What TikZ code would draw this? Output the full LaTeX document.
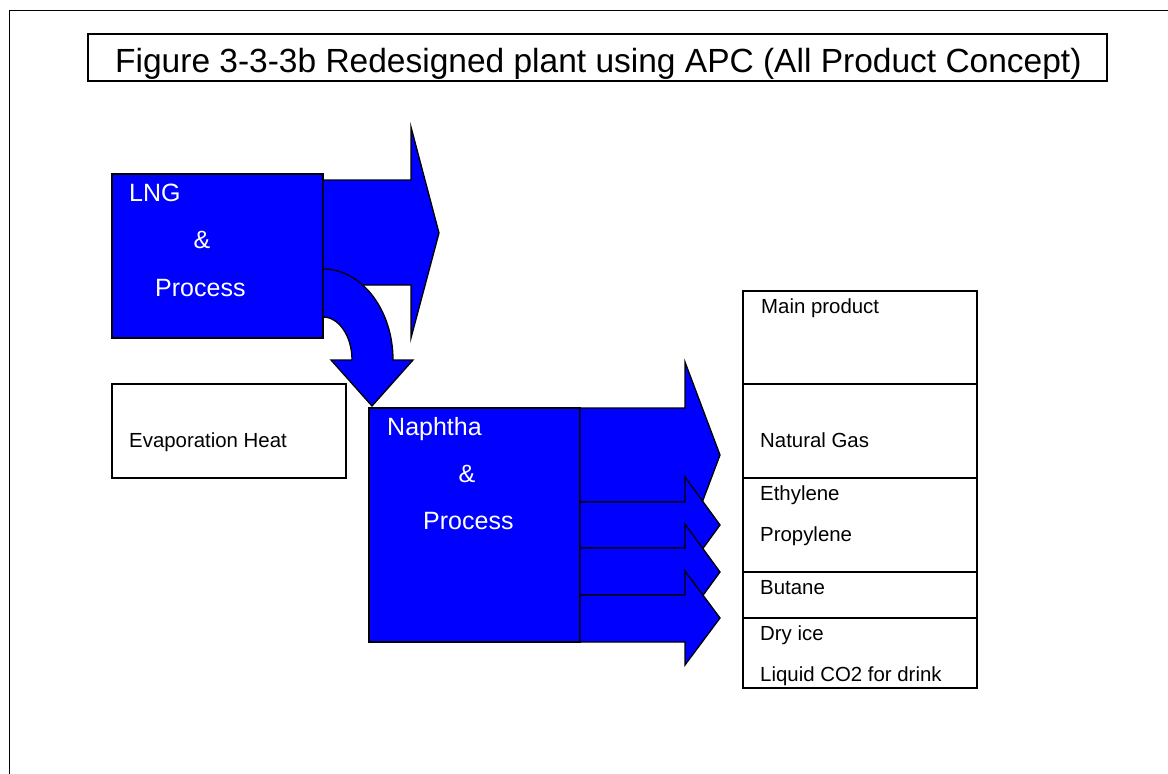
\documentclass[tikz,border=0pt]{standalone}
\usepackage{fontspec}
\setmainfont{Liberation Sans}
\definecolor{plantblue}{RGB}{0,0,255}
\begin{document}
\begin{tikzpicture}[x=1pt,y=-1pt,
  outline/.style={draw=black,line width=1.3pt,line join=miter},
  bluebox/.style={outline,fill=plantblue},
  bluearrow/.style={outline,fill=plantblue},
  whitebox/.style={outline,fill=white},
  titletext/.style={anchor=base west,inner sep=0pt,font=\fontsize{33.5}{40}\selectfont},
  proctext/.style={anchor=base west,inner sep=0pt,text=white,font=\fontsize{25}{30}\selectfont},
  prodtext/.style={anchor=base west,inner sep=0pt,font=\fontsize{20.4}{24}\selectfont}]
\useasboundingbox (0,0) rectangle (1168,774);
\clip (0,0) rectangle (1168,774);

% page frame
\draw[line width=1.4pt] (9.5,1200) |- (1300,10.5);

% caption box
\draw[outline,line width=1.2pt] (88,34) rectangle (1107,81);
\node[titletext] (title) at (115,72) {Figure 3-3-3b Redesigned plant using APC (All Product Concept)};

% LNG process block
\draw[bluebox] (112,174) rectangle (323,338);
\node[proctext] (lng) at (129,201) {LNG};
\node[proctext,anchor=base] (lngamp) at (202,248) {\&};
\node[proctext] (lngproc) at (155,296) {Process};

% straight output arrow of the LNG block
\draw[bluearrow] (323,180) -- (411,180) -- (411,127) -- (439,233)
  -- (411,338) -- (411,285) -- (323,285) -- cycle;

% bent arrow carrying the cold down to the naphtha block
\draw[bluearrow] (323,269) .. controls (361.7,269) and (393,309.7) .. (393,360)
  -- (413,360) -- (372,406) -- (331,360) -- (352,360)
  .. controls (352,336.3) and (339,317) .. (323,317) -- cycle;

% evaporation heat box
\draw[whitebox] (112,384) rectangle (346,478);
\node[prodtext] (evap) at (129,447) {Evaporation Heat};

% naphtha process block
\draw[bluebox] (369,408) rectangle (580,642);
\node[proctext] (nap) at (387,435) {Naphtha};
\node[proctext,anchor=base] (napamp) at (467,482) {\&};
\node[proctext] (napproc) at (423,529) {Process};

% output arrows of the naphtha block
\draw[bluearrow] (580,408) -- (685,408) -- (685,362) -- (720,455)
  -- (685,548) -- (685,502) -- (580,502) -- cycle;
\draw[bluearrow] (580,502) -- (685,502) -- (685,477) -- (720,525)
  -- (685,573) -- (685,548) -- (580,548) -- cycle;
\draw[bluearrow] (580,548) -- (685,548) -- (685,524) -- (720,572)
  -- (685,620) -- (685,595) -- (580,595) -- cycle;
\draw[bluearrow] (580,595) -- (685,595) -- (685,571) -- (720,618)
  -- (685,665) -- (685,642) -- (580,642) -- cycle;

% product table
\draw[whitebox] (743,291) rectangle (977,384);
\draw[whitebox] (743,384) rectangle (977,478);
\draw[whitebox] (743,478) rectangle (977,572);
\draw[whitebox] (743,572) rectangle (977,618);
\draw[whitebox] (743,618) rectangle (977,688);
\node[prodtext] (mainprod) at (761,313) {Main product};
\node[prodtext] (natgas) at (760,447) {Natural Gas};
\node[prodtext] (ethylene) at (760,500) {Ethylene};
\node[prodtext] (propylene) at (760,541) {Propylene};
\node[prodtext] (butane) at (760,594) {Butane};
\node[prodtext] (dryice) at (760,640) {Dry ice};
\node[prodtext] (co2) at (760,681) {Liquid CO2 for drink};
\end{tikzpicture}
\end{document}
